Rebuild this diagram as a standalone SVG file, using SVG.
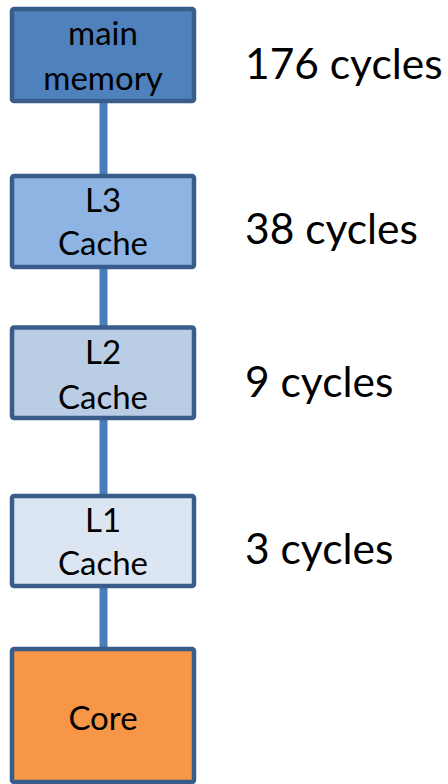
<svg xmlns="http://www.w3.org/2000/svg" width="448" height="784" viewBox="0 0 448 784">
  <style>
    .box { stroke: #385D8A; stroke-width: 4.5; }
    .lbl { font-family: Lato, "Open Sans", "Liberation Sans", sans-serif; font-size: 33px; fill: #000; text-anchor: middle; }
    .lat { font-family: Lato, "Open Sans", "Liberation Sans", sans-serif; font-size: 42.5px; fill: #000; }
    .link { stroke: #4A7EBB; stroke-width: 8; fill: none; }
  </style>
  <rect width="448" height="784" fill="#fff"/>

  <!-- vertical links between memory levels -->
  <g id="connectors">
    <line class="link" x1="103.5" y1="101" x2="103.5" y2="176"/>
    <line class="link" x1="103.5" y1="267" x2="103.5" y2="327"/>
    <line class="link" x1="103.5" y1="418" x2="103.5" y2="496"/>
    <line class="link" x1="103.5" y1="586" x2="103.5" y2="649"/>
  </g>

  <g id="main-memory">
    <rect class="box" x="12" y="9" width="182" height="92" rx="2" fill="#4F81BD"/>
    <text class="lbl" x="103" y="45">main</text>
    <text class="lbl" x="103" y="90">memory</text>
  </g>

  <g id="l3-cache">
    <rect class="box" x="12" y="176" width="182" height="91" rx="2" fill="#8EB4E3"/>
    <text class="lbl" x="103" y="212">L3</text>
    <text class="lbl" x="103" y="255">Cache</text>
  </g>

  <g id="l2-cache">
    <rect class="box" x="12" y="327.5" width="182" height="90.5" rx="2" fill="#B9CDE5"/>
    <text class="lbl" x="103" y="363.5">L2</text>
    <text class="lbl" x="103" y="408.5">Cache</text>
  </g>

  <g id="l1-cache">
    <rect class="box" x="12" y="496" width="182" height="90" rx="2" fill="#DCE6F2"/>
    <text class="lbl" x="103" y="532">L1</text>
    <text class="lbl" x="103" y="575">Cache</text>
  </g>

  <g id="core">
    <rect class="box" x="12" y="649" width="182" height="133" rx="2" fill="#F79646"/>
    <text class="lbl" x="103" y="729.5">Core</text>
  </g>

  <!-- access latencies -->
  <g id="latencies">
    <text class="lat" x="245" y="78.5">176 cycles</text>
    <text class="lat" x="245" y="243.5">38 cycles</text>
    <text class="lat" x="245" y="397">9 cycles</text>
    <text class="lat" x="245" y="563.5">3 cycles</text>
  </g>
</svg>
